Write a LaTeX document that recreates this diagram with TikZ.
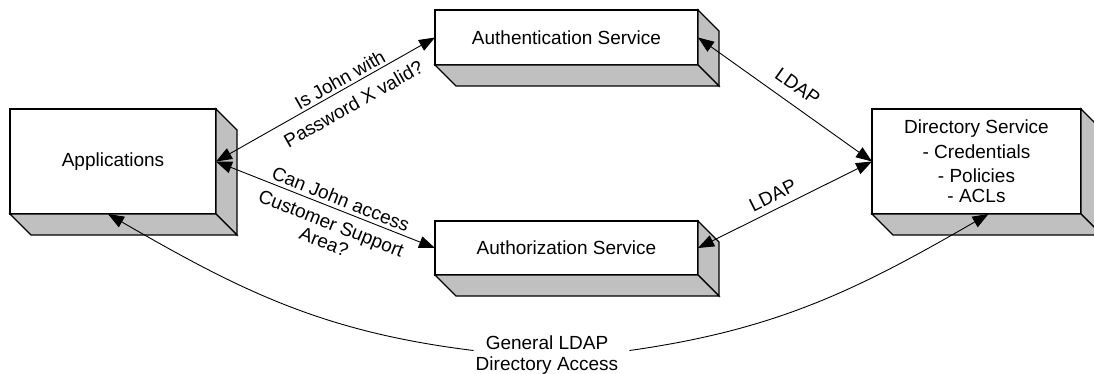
\documentclass[tikz,border=0pt]{standalone}
\usepackage{fontspec}
\setmainfont{Liberation Sans}
\usetikzlibrary{arrows.meta}
\definecolor{sidegray}{RGB}{192,192,192}
\begin{document}
\begin{tikzpicture}[x=1pt,y=-1pt,
  txt/.style={font=\fontsize{19}{20}\selectfont},
  box/.style={txt, draw, line width=1.1pt, fill=white, inner sep=0pt, outer sep=0pt, align=center},
  face/.style={draw, line width=1.1pt, fill=sidegray},
  tip/.tip={Triangle[length=16pt,width=12pt]},
  conn/.style={line width=0.9pt, tip-tip},
  lab/.style={txt, inner sep=0pt, align=center, sloped}
]
\useasboundingbox (0,0) rectangle (1094,374);
\clip (0,0) rectangle (1094,374);

% front faces of the blocks
\node[box, minimum width=206pt, minimum height=105pt] (apps)  at (113,161.5)   {Applications};
\node[box, minimum width=263pt, minimum height=55pt]  (authn) at (566.5,37.5)  {Authentication Service};
\node[box, minimum width=263pt, minimum height=54pt]  (authz) at (566.5,248)   {Authorization Service};
\node[box, minimum width=209pt, minimum height=105pt] (dir)   at (976.5,161.5)
  {Directory Service\\[5pt]- Credentials\\[4pt]- Policies\\- ACLs};

% shaded right and bottom faces giving the blocks depth
\foreach \n in {apps,authn,authz,dir}{
  \filldraw[face] (\n.north east) -- ([shift={(21,21)}]\n.north east)
    -- ([shift={(21,21)}]\n.south east) -- (\n.south east) -- cycle;
  \filldraw[face] (\n.south west) -- (\n.south east)
    -- ([shift={(21,21)}]\n.south east) -- ([shift={(21,21)}]\n.south west) -- cycle;
}

% requests from the applications
\draw[conn] (apps.east) --
  node[lab, pos=0.588, yshift=10pt] (q1a) {Is John with}
  node[lab, pos=0.588, yshift=-17.5pt] (q1b) {Password X valid?}
  (authn.west);
\draw[conn] (apps.east) --
  node[lab, pos=0.552, yshift=10.8pt] (q2a) {Can John access}
  node[lab, pos=0.552, yshift=-25pt, font=\fontsize{19}{19.7}\selectfont] (q2b) {Customer Support\\Area?}
  (authz.west);

% LDAP links to the directory
\draw[conn] (authn.east) -- node[lab, pos=0.513, yshift=17.9pt] (l1) {LDAP} (dir.west);
\draw[conn] (authz.east) -- node[lab, pos=0.465, yshift=13.8pt] (l2) {LDAP} (dir.west);

% general directory access
\node[txt, align=center, inner sep=2pt, font=\fontsize{19}{21}\selectfont] (gl) at (547,355.5)
  {General LDAP\\Directory Access};
\draw[line width=0.9pt, tip-] ([xshift=-5pt]apps.south) to[out=-30, in=173] ([yshift=5pt]gl.west);
\draw[line width=0.9pt, -tip] ([xshift=9pt,yshift=5pt]gl.east) to[out=8, in=-150] ([xshift=12pt]dir.south);
\end{tikzpicture}
\end{document}
